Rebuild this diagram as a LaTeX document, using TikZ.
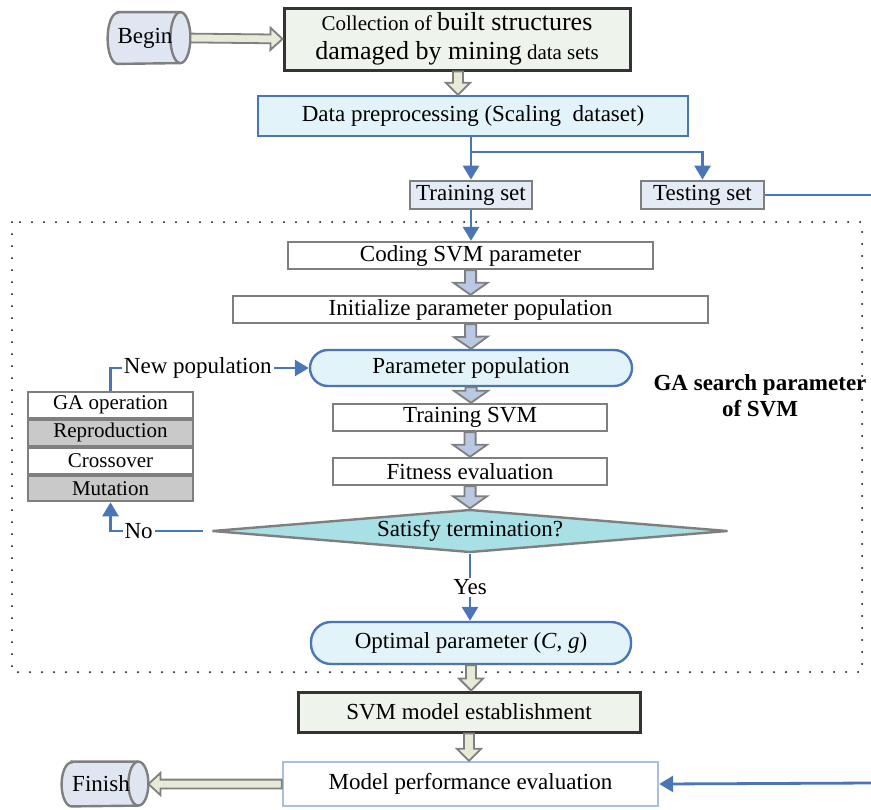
\documentclass[tikz,border=0pt]{standalone}
\usepackage{fontspec}
\setmainfont{Liberation Serif}
\usetikzlibrary{shapes.geometric,calc,arrows.meta}

\definecolor{lineblue}{HTML}{4A76B8}
\definecolor{boxgray}{HTML}{7F7F7F}
\definecolor{darkline}{HTML}{333333}
\definecolor{startfill}{HTML}{DFE6F2}
\definecolor{greenfill}{HTML}{EEF4EC}
\definecolor{cyanfill}{HTML}{E2F4F9}
\definecolor{setfill}{HTML}{E4EBF5}
\definecolor{diafill}{HTML}{A9E0E6}
\definecolor{rowgray}{HTML}{C9C9C9}
\definecolor{arrowolive}{HTML}{E6EAD6}
\definecolor{arrowblue}{HTML}{B9C9E3}
\definecolor{evalline}{HTML}{A8C0E0}

% hollow block arrow between two points: [fill]{half shaft}{half head}{from}{to}
\newcommand{\fatarrow}[5][arrowolive]{%
  \coordinate (fa-s) at (#4);
  \coordinate (fa-e) at (#5);
  \coordinate (fa-h) at ($(fa-e)!6pt!(fa-s)$);
  \draw[fatline,fill=#1] ($(fa-s)!#2!90:(fa-e)$) -- ($(fa-h)!#2!90:(fa-e)$)
    -- ($(fa-h)!#3!90:(fa-e)$) -- (fa-e) -- ($(fa-h)!#3!-90:(fa-e)$)
    -- ($(fa-h)!#2!-90:(fa-e)$) -- ($(fa-s)!#2!-90:(fa-e)$) -- cycle;
}
% lying drum outline round a node: {node}{half height}
\newcommand{\drum}[2]{%
  \draw[endline] ([xshift=5pt]#1.north west) -- ([xshift=-5pt]#1.north east)
    arc[start angle=90,end angle=-90,x radius=5pt,y radius=#2]
    -- ([xshift=5pt]#1.south west)
    arc[start angle=270,end angle=90,x radius=5pt,y radius=#2] -- cycle;
  \draw[endline,fill=none] ([xshift=-5pt]#1.north east)
    arc[start angle=90,end angle=270,x radius=5pt,y radius=#2];
}
\newcommand{\bigtxt}{\fontsize{13}{14.5}\selectfont}

\begin{document}
\begin{tikzpicture}[x=0.5pt,y=-0.5pt,
  txt/.style={font=\fontsize{11.5}{13}\selectfont},
  box/.style={txt,draw=boxgray,line width=1.2pt,fill=white,inner sep=0pt},
  darkbox/.style={box,draw=darkline,line width=1.5pt,fill=greenfill},
  bluebox/.style={box,draw=lineblue,line width=1.2pt,fill=cyanfill},
  pill/.style={bluebox,rounded corners=9pt},
  setbox/.style={box,fill=setfill,line width=1.4pt},
  garow/.style={box,font=\fontsize{10.5}{12}\selectfont,minimum width=82.5pt,minimum height=12.9pt,line width=1pt},
  ends/.style={txt,inner sep=0pt},
  endline/.style={draw=boxgray,line width=1.2pt,fill=startfill},
  blueline/.style={draw=lineblue,line width=1.4pt,-{Triangle[length=7pt,width=8pt]}},
  lab/.style={txt,fill=white,inner sep=1pt},
  fatline/.style={draw=boxgray,line width=0.9pt}]
\useasboundingbox (0,0) rectangle (871,809);

% outer frame of the GA search
\draw[line width=1pt,line cap=round,dash pattern=on 0pt off 6pt] (12,222) rectangle (862,672);
\node[txt,font=\fontsize{11.5}{13}\selectfont\bfseries,align=center] (gatitle) at (760,396) {GA search parameter\\of SVM};

% top part
\node[ends,minimum width=41pt,minimum height=25.5pt] (begin) at (149,38) {};
\drum{begin}{12.75pt}
\node[txt] at (begin) {\hspace*{-4pt}Begin};
\node[darkbox,minimum width=173pt,minimum height=31pt,align=center,font=\fontsize{10.5}{14.5}\selectfont] (collect) at (457,39)
  {Collection of {\bigtxt built structures}\\{\bigtxt damaged by mining} data sets};
\node[bluebox,minimum width=215pt,minimum height=20pt] (prep) at (473,116) {Data preprocessing (Scaling\ \ dataset)};
\node[setbox,minimum width=61pt,minimum height=14pt] (training) at (471,195) {Training set};
\node[setbox,minimum width=61.5pt,minimum height=14pt] (testing) at (702.5,195) {Testing set};
\coordinate (split) at (471,152);
\coordinate (outT) at (871,195);

% GA loop
\node[box,minimum width=182.5pt,minimum height=13.5pt] (coding) at (470.5,255.5) {Coding SVM parameter};
\node[box,minimum width=237.5pt,minimum height=13.5pt] (init) at (470.5,309.5) {Initialize parameter population};
\node[pill,minimum width=161pt,minimum height=18pt] (parampop) at (471,368) {Parameter population};
\node[box,minimum width=137pt,minimum height=13.5pt] (trainsvm) at (470,417.5) {Training SVM};
\node[box,minimum width=137pt,minimum height=13.5pt] (fitness) at (470,471.5) {Fitness evaluation};
\node[txt,shape=diamond,aspect=12,draw=boxgray,line width=1.2pt,fill=diafill,inner sep=0pt,
  minimum width=258pt,minimum height=21.5pt] (satisfy) at (470,531) {Satisfy termination?};

\node[garow] (ga1) at (110.5,405) {GA operation};
\node[garow,fill=rowgray,anchor=north] (ga2) at (ga1.south) {Reproduction};
\node[garow,anchor=north] (ga3) at (ga2.south) {Crossover};
\node[garow,fill=rowgray,anchor=north] (ga4) at (ga3.south) {Mutation};

\node[pill,minimum width=160pt,minimum height=21pt,rounded corners=10pt] (optimal) at (471,643) {Optimal parameter (\textit{C}, \textit{g})};

% bottom part
\node[darkbox,minimum width=171pt,minimum height=20pt] (svm) at (469,712) {SVM model establishment};
\node[box,draw=evalline,minimum width=187.5pt,minimum height=22pt] (evaluate) at (470.5,784) {Model performance evaluation};
\node[ends,minimum width=43pt,minimum height=22pt] (finish) at (105,784) {};
\drum{finish}{11pt}
\node[txt] at (finish) {\hspace*{-4pt}Finish};
\coordinate (outM) at (871,783);

% blue connectors
\draw[blueline] (training.north |- prep.south) -- (training.north);
\draw[blueline] (split) -| (testing.north);
\draw[blueline,-] (testing.east) -- (outT);
\draw[blueline] (training.south) -- (training.south |- coding.north);
\draw[blueline] (ga1.north) |- node[lab,pos=0.72] {New population} (parampop.west);
\draw[blueline,shorten <=4pt] (satisfy.west) -| node[lab,pos=0.36] {No} (ga4.south);
\draw[blueline] (satisfy.south) -- node[lab] {Yes} (satisfy.south |- optimal.north);
\draw[blueline] (outM) -- (evaluate.east);

% block arrows
\fatarrow{2.2pt}{5.5pt}{begin.east}{collect.west}
\fatarrow{2.5pt}{6pt}{collect.south -| 458,0}{prep.north -| 458,0}
\fatarrow[arrowblue]{2.8pt}{8.5pt}{coding.south}{init.north}
\fatarrow[arrowblue]{2.8pt}{8.5pt}{init.south}{parampop.north}
\fatarrow[arrowblue]{2.8pt}{8.5pt}{parampop.south}{parampop.south |- trainsvm.north}
\fatarrow[arrowblue]{2.8pt}{8.5pt}{trainsvm.south}{fitness.north}
\fatarrow[arrowblue]{2.8pt}{8.5pt}{fitness.south}{satisfy.north}
\fatarrow{2.5pt}{6pt}{optimal.south}{optimal.south |- svm.north}
\fatarrow{2.5pt}{6pt}{svm.south}{svm.south |- evaluate.north}
\fatarrow{2.2pt}{5.5pt}{evaluate.west}{finish.east}
\end{tikzpicture}
\end{document}
